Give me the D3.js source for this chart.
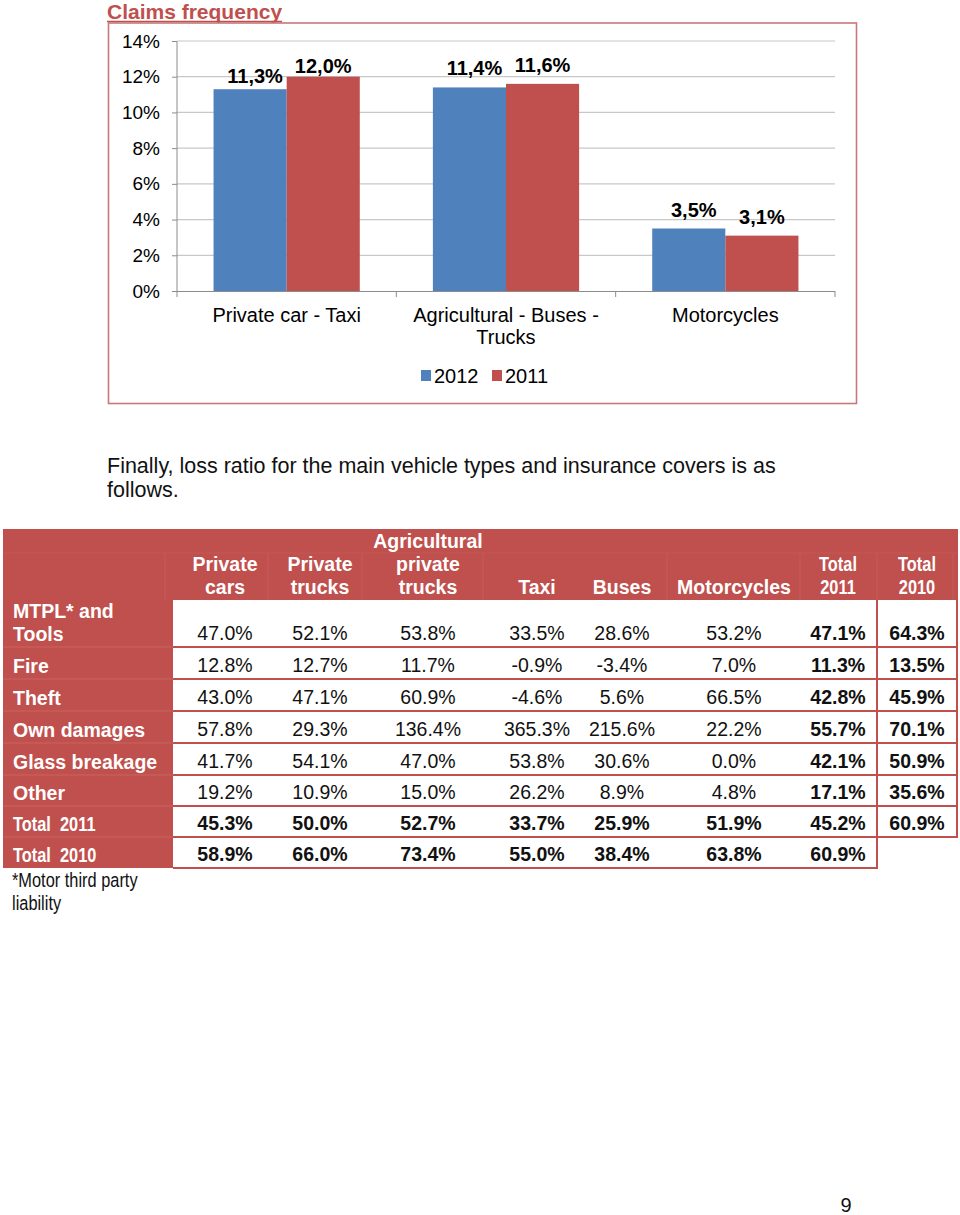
<!DOCTYPE html>
<html><head><meta charset="utf-8">
<script src="https://cdn.jsdelivr.net/npm/d3@7"></script>
<style>
body{margin:0;background:#fff;}
svg{display:block;font-family:"Liberation Sans",Arial,sans-serif;}
</style></head><body>
<svg id="page" width="960" height="1215"></svg>
<script>
// ---------- Chart data ----------
const categories = ["Private car - Taxi", "Agricultural - Buses - Trucks", "Motorcycles"];
const categoryLines = [["Private car - Taxi"], ["Agricultural - Buses -", "Trucks"], ["Motorcycles"]];
const seriesNames = ["2012", "2011"];
const values2012 = [11.3, 11.4, 3.5];
const values2011 = [12.0, 11.6, 3.1];
const labels2012 = ["11,3%", "11,4%", "3,5%"];
const labels2011 = ["12,0%", "11,6%", "3,1%"];
const yTicks = [0, 2, 4, 6, 8, 10, 12, 14];

// ---------- Table data ----------
const tableColumns = [["Private", "cars"], ["Private", "trucks"], ["Agricultural", "private", "trucks"], ["Taxi"], ["Buses"], ["Motorcycles"], ["Total", "2011"], ["Total", "2010"]];
const rowLabels = [["MTPL* and", "Tools"], ["Fire"], ["Theft"], ["Own damages"], ["Glass breakage"], ["Other"], ["Total  2011"], ["Total  2010"]];
const rowMTPL   = ["47.0%", "52.1%", "53.8%", "33.5%", "28.6%", "53.2%", "47.1%", "64.3%"];
const rowFire   = ["12.8%", "12.7%", "11.7%", "-0.9%", "-3.4%", "7.0%", "11.3%", "13.5%"];
const rowTheft  = ["43.0%", "47.1%", "60.9%", "-4.6%", "5.6%", "66.5%", "42.8%", "45.9%"];
const rowOwn    = ["57.8%", "29.3%", "136.4%", "365.3%", "215.6%", "22.2%", "55.7%", "70.1%"];
const rowGlass  = ["41.7%", "54.1%", "47.0%", "53.8%", "30.6%", "0.0%", "42.1%", "50.9%"];
const rowOther  = ["19.2%", "10.9%", "15.0%", "26.2%", "8.9%", "4.8%", "17.1%", "35.6%"];
const rowTot11  = ["45.3%", "50.0%", "52.7%", "33.7%", "25.9%", "51.9%", "45.2%", "60.9%"];
const rowTot10  = ["58.9%", "66.0%", "73.4%", "55.0%", "38.4%", "63.8%", "60.9%"];
const tableRows = [rowMTPL, rowFire, rowTheft, rowOwn, rowGlass, rowOther, rowTot11, rowTot10];

// ---------- Styles ----------
const BLUE = "#4f81bd", RED = "#c0504d";
const NARROW = 0.84;
const labelLift = [[6, 12, 12], [4, 12, 12]]; // gap (px) between bar top and its label, per series
const svg = d3.select("#page");

// ---------- Title ----------
const title = svg.append("text").attr("x", 107).attr("y", 18.5).attr("font-size", 21).attr("font-weight", "bold")
  .attr("fill", RED).text("Claims frequency");
const tw = title.node().getComputedTextLength();
svg.append("line").attr("x1", 107).attr("x2", 107 + tw).attr("y1", 21.5).attr("y2", 21.5).attr("stroke", RED).attr("stroke-width", 1.6);

// Chart box
svg.append("rect").attr("x", 108.5).attr("y", 23).attr("width", 748).attr("height", 380.5)
  .attr("fill", "none").attr("stroke", "#c9777a").attr("stroke-width", 1.6);

// ---------- Bar chart ----------
const x0 = d3.scaleBand().domain(categories).range([177, 835]).padding(0);
const x1 = d3.scaleBand().domain(seriesNames).range([0, x0.bandwidth()]).paddingInner(0).paddingOuter(0.5);
const y = d3.scaleLinear().domain([0, 14]).range([291, 41]);

const g = svg.append("g");
g.selectAll(".grid").data(yTicks.filter(t => t > 0)).join("line")
  .attr("x1", 177).attr("x2", 835).attr("y1", d => y(d)).attr("y2", d => y(d))
  .attr("stroke", "#c8c8c8").attr("stroke-width", 1.2);

const yAxis = d3.axisLeft(y).tickValues(yTicks).tickFormat(d => d + "%").tickSize(5).tickPadding(12);
const ya = g.append("g").attr("transform", "translate(177,0)").call(yAxis);
ya.select(".domain").attr("stroke", "#8c8c8c").attr("d", "M-5,41.5H0V291");
ya.selectAll(".tick line").attr("stroke", "#8c8c8c");
ya.selectAll(".tick text").attr("font-size", 19).attr("fill", "#000").attr("font-family", "Liberation Sans, Arial, sans-serif");

const bars = [values2012, values2011];
const barLabels = [labels2012, labels2011];
const colors = [BLUE, RED];
seriesNames.forEach((s, si) => {
  g.selectAll(".bar" + si).data(categories).join("rect")
    .attr("x", c => x0(c) + x1(s)).attr("width", x1.bandwidth())
    .attr("y", (c, i) => y(bars[si][i])).attr("height", (c, i) => y(0) - y(bars[si][i]))
    .attr("fill", colors[si]);
  g.selectAll(".lbl" + si).data(categories).join("text")
    .attr("x", c => x0(c) + x1(s) + x1.bandwidth() / 2 + (si === 0 ? 5 : 0))
    .attr("y", (c, i) => y(bars[si][i]) - labelLift[si][i])
    .attr("text-anchor", "middle").attr("font-size", 20).attr("font-weight", "bold")
    .text((c, i) => barLabels[si][i]);
});

const xa = g.append("g").attr("transform", "translate(0,291)");
xa.append("line").attr("x1", 177).attr("x2", 835).attr("y1", 0.5).attr("y2", 0.5).attr("stroke", "#8c8c8c");
const tickXs = categories.map(c => x0(c)).concat([x0(categories[2]) + x0.bandwidth()]);
xa.selectAll(".xt").data(tickXs).join("line").attr("x1", d => d).attr("x2", d => d).attr("y1", 0).attr("y2", 6).attr("stroke", "#8c8c8c");
categories.forEach((c, i) => {
  const t = xa.append("text").attr("text-anchor", "middle").attr("font-size", 20).attr("x", x0(c) + x0.bandwidth() / 2);
  categoryLines[i].forEach((ln, li) => t.append("tspan").attr("x", x0(c) + x0.bandwidth() / 2).attr("y", 31 + li * 22).text(ln));
});

const leg = svg.append("g");
[[421, "2012", BLUE], [492, "2011", RED]].forEach(([lx, name, col]) => {
  leg.append("rect").attr("x", lx).attr("y", 370).attr("width", 10).attr("height", 11).attr("fill", col);
  leg.append("text").attr("x", lx + 13).attr("y", 383).attr("font-size", 20).text(name);
});

// ---------- Paragraph ----------
svg.append("text").attr("x", 107).attr("y", 473).attr("font-size", 21.5).attr("fill", "#111")
  .text("Finally, loss ratio for the main vehicle types and insurance covers is as");
svg.append("text").attr("x", 107).attr("y", 497).attr("font-size", 21.5).attr("fill", "#111").text("follows.");

// ---------- Table ----------
const colEdges = [173, 270, 365, 483, 580, 667, 800, 877, 957];
const colCenters = [225, 320, 428, 537, 622, 734, 838, 917];
const rowEdges = [600, 647, 679, 711, 743, 775, 806, 837, 868];
const headTop = 529, leftX = 3;
const tg = svg.append("g");

tg.append("rect").attr("x", leftX).attr("y", headTop).attr("width", 958 - leftX).attr("height", rowEdges[0] - headTop).attr("fill", RED);
tg.append("rect").attr("x", leftX).attr("y", rowEdges[0]).attr("width", colEdges[0] - leftX).attr("height", rowEdges[8] - rowEdges[0]).attr("fill", RED);
[165, 268, 362, 483, 667, 800, 877, 953].forEach(xx =>
  tg.append("line").attr("x1", xx).attr("x2", xx).attr("y1", 553).attr("y2", 600).attr("stroke", "#c65c59").attr("stroke-width", 1));
tg.append("line").attr("x1", leftX).attr("x2", 958).attr("y1", 553).attr("y2", 553).attr("stroke", "#c45855").attr("stroke-width", 1);
rowEdges.slice(1, 8).forEach(ry =>
  tg.append("line").attr("x1", leftX).attr("x2", colEdges[0]).attr("y1", ry).attr("y2", ry).attr("stroke", "#c9625f").attr("stroke-width", 1));

function addText(parent, x, yy, txt, opts) {
  const t = parent.append("text").attr("xml:space", "preserve")
    .attr("font-size", opts.size).attr("font-weight", opts.bold ? "bold" : "normal")
    .attr("fill", opts.fill).attr("text-anchor", opts.anchor || "start").text(txt);
  if (opts.narrow) t.attr("transform", `translate(${x},${yy}) scale(${NARROW},1)`);
  else t.attr("x", x).attr("y", yy);
  return t;
}

tableColumns.forEach((lines, ci) => {
  const n = lines.length;
  lines.forEach((ln, li) => addText(tg, colCenters[ci], 594 - (n - 1 - li) * 23, ln,
    {size: 19.5, bold: true, fill: "#fff", anchor: "middle", narrow: ci >= 6}));
});

rowLabels.forEach((lines, ri) => {
  const n = lines.length;
  lines.forEach((ln, li) => addText(tg, 13, rowEdges[ri + 1] - 6 - (n - 1 - li) * 23, ln,
    {size: 19.5, bold: true, fill: "#fff", narrow: ri >= 6}));
});

rowEdges.slice(1).forEach((ry, i) => {
  const x2 = (i === 7) ? colEdges[7] : colEdges[8];
  tg.append("line").attr("x1", colEdges[0]).attr("x2", x2).attr("y1", ry).attr("y2", ry).attr("stroke", RED).attr("stroke-width", 2);
});
tg.append("line").attr("x1", colEdges[7]).attr("x2", colEdges[7]).attr("y1", rowEdges[0]).attr("y2", rowEdges[8] + 1).attr("stroke", RED).attr("stroke-width", 2);
tg.append("line").attr("x1", colEdges[8]).attr("x2", colEdges[8]).attr("y1", rowEdges[0]).attr("y2", rowEdges[7] + 1).attr("stroke", RED).attr("stroke-width", 2);

tableRows.forEach((row, ri) => {
  row.forEach((v, ci) => addText(tg, colCenters[ci], rowEdges[ri + 1] - 7, v,
    {size: 19.5, bold: ri >= 6 || ci >= 6, fill: "#111", anchor: "middle"}));
});

addText(svg, 12, 887, "*Motor third party", {size: 19.5, fill: "#111", narrow: true});
addText(svg, 12, 910, "liability", {size: 19.5, fill: "#111", narrow: true});

svg.append("text").attr("x", 846).attr("y", 1212).attr("text-anchor", "middle").attr("font-size", 20).attr("fill", "#111").text("9");
</script>
</body></html>
